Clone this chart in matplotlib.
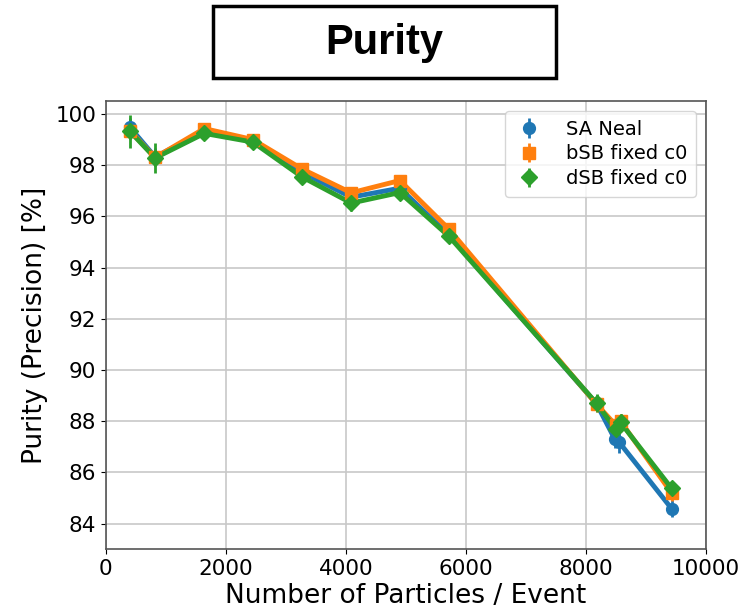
import matplotlib
matplotlib.use("Agg")
import matplotlib.pyplot as plt
from matplotlib.patches import Rectangle

x_sa = [400, 820, 1640, 2450, 3270, 4090, 4900, 5720, 8180, 8480, 8560, 9430]
y_sa = [99.48, 98.32, 99.33, 98.93, 97.72, 96.75, 97.10, 95.27, 88.68, 87.32, 87.17, 84.59]
e_sa = [0.35, 0.35, 0.2, 0.2, 0.2, 0.25, 0.2, 0.2, 0.3, 0.35, 0.4, 0.35]

x_bsb = [400, 820, 1640, 2450, 3270, 4090, 4900, 5720, 8180, 8500, 8580, 9430]
y_bsb = [99.34, 98.30, 99.43, 99.00, 97.85, 96.92, 97.40, 95.50, 88.66, 87.85, 88.00, 85.20]
e_bsb = [0.3, 0.3, 0.2, 0.2, 0.2, 0.2, 0.2, 0.2, 0.3, 0.3, 0.3, 0.3]

x_dsb = [400, 820, 1640, 2450, 3270, 4090, 4900, 5720, 8180, 8500, 8580, 9430]
y_dsb = [99.32, 98.28, 99.24, 98.90, 97.54, 96.52, 96.93, 95.22, 88.70, 87.68, 87.95, 85.38]
e_dsb = [0.65, 0.58, 0.2, 0.2, 0.25, 0.3, 0.25, 0.25, 0.35, 0.35, 0.35, 0.3]

labels = ["SA Neal", "bSB fixed c0", "dSB fixed c0"]
xticks = [0, 2000, 4000, 6000, 8000, 10000]
yticks = [84, 86, 88, 90, 92, 94, 96, 98, 100]

fig = plt.figure(figsize=(7.46, 6.13), dpi=100)
ax = fig.add_axes([0.142, 0.104, 0.804, 0.731])

series = [(x_sa, y_sa, e_sa, 'o', '#1f77b4', 8.5),
          (x_bsb, y_bsb, e_bsb, 's', '#ff7f0e', 8),
          (x_dsb, y_dsb, e_dsb, 'D', '#2ca02c', 8)]
for (xs, ys, es, m, c, ms), lab in zip(series, labels):
    ax.plot(xs, ys, '-', color=c, lw=3.5)
    ax.errorbar(xs, ys, yerr=es, fmt=m, color=c, ms=ms, elinewidth=2, label=lab)

ax.set_xlim(0, 10000)
ax.set_ylim(83.0, 100.5)
ax.set_xticks(xticks)
ax.set_yticks(yticks)
ax.tick_params(labelsize=15.5)
ax.grid(True, color='#c8c8c8', lw=1.2)
ax.set_xlabel("Number of Particles / Event", fontsize=19, labelpad=3)
ax.set_ylabel("Purity (Precision) [%]", fontsize=19, labelpad=5)
ax.legend(loc='upper right', fontsize=14, handlelength=1.6, handletextpad=1.1,
          borderpad=0.45, borderaxespad=0.5, labelspacing=0.3)
for s in ax.spines.values():
    s.set_color('#555555')
    s.set_linewidth(1.2)

fig.patches.append(Rectangle((0.2855, 0.873), 0.4595, 0.117, transform=fig.transFigure,
                             fc='white', ec='black', lw=2.5))
fig.text(0.5155, 0.930, "Purity", ha='center', va='center', fontsize=30,
         fontweight='bold', family='Liberation Sans')
fig.savefig("out.png", dpi=100)
